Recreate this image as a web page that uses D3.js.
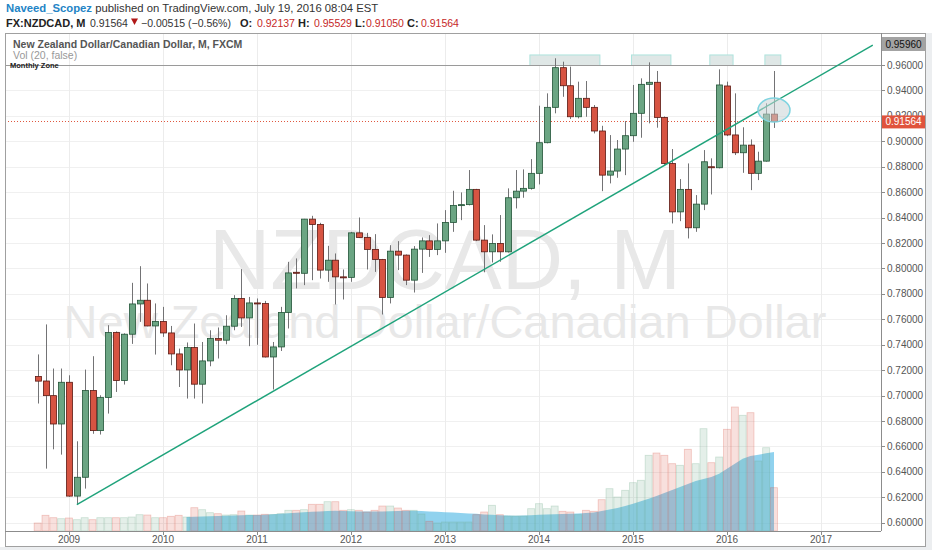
<!DOCTYPE html>
<html>
<head>
<meta charset="utf-8">
<script src="https://cdn.jsdelivr.net/npm/d3@7"></script>
<style>
  body { margin: 0; background: #ffffff; }
  svg { display: block; font-family: Arial, "Liberation Sans", sans-serif; }
</style>
</head>
<body>
<div id="chart"></div>
<script>
// monthly candles, NZD/CAD (FXCM)
const months = [
  "2008-09", "2008-10", "2008-11", "2008-12",
  "2009-01", "2009-02", "2009-03", "2009-04", "2009-05", "2009-06", "2009-07", "2009-08", "2009-09", "2009-10", "2009-11", "2009-12",
  "2010-01", "2010-02", "2010-03", "2010-04", "2010-05", "2010-06", "2010-07", "2010-08", "2010-09", "2010-10", "2010-11", "2010-12",
  "2011-01", "2011-02", "2011-03", "2011-04", "2011-05", "2011-06", "2011-07", "2011-08", "2011-09", "2011-10", "2011-11", "2011-12",
  "2012-01", "2012-02", "2012-03", "2012-04", "2012-05", "2012-06", "2012-07", "2012-08", "2012-09", "2012-10", "2012-11", "2012-12",
  "2013-01", "2013-02", "2013-03", "2013-04", "2013-05", "2013-06", "2013-07", "2013-08", "2013-09", "2013-10", "2013-11", "2013-12",
  "2014-01", "2014-02", "2014-03", "2014-04", "2014-05", "2014-06", "2014-07", "2014-08", "2014-09", "2014-10", "2014-11", "2014-12",
  "2015-01", "2015-02", "2015-03", "2015-04", "2015-05", "2015-06", "2015-07", "2015-08", "2015-09", "2015-10", "2015-11", "2015-12",
  "2016-01", "2016-02", "2016-03", "2016-04", "2016-05", "2016-06", "2016-07"
];

const opens = [
  0.7151, 0.7115, 0.7000, 0.6777,
  0.7105, 0.6210, 0.6358, 0.7040, 0.6725, 0.6985, 0.7496, 0.7119, 0.7483, 0.7721, 0.7750, 0.7548,
  0.7583, 0.7493, 0.7328, 0.7202, 0.7378, 0.7090, 0.7273, 0.7449, 0.7436, 0.7546, 0.7764, 0.7611,
  0.7729, 0.7724, 0.7304, 0.7383, 0.7654, 0.7970, 0.7962, 0.8388, 0.8346, 0.7987, 0.8065, 0.7934,
  0.7930, 0.8280, 0.8244, 0.8150, 0.8071, 0.7772, 0.8136, 0.8105, 0.7908, 0.8152, 0.8217, 0.8150,
  0.8217, 0.8362, 0.8496, 0.8502, 0.8622, 0.8223, 0.8131, 0.8197, 0.8131, 0.8556, 0.8608, 0.8630,
  0.8748, 0.8989, 0.9267, 0.9579, 0.9437, 0.9193, 0.9338, 0.9267, 0.9081, 0.8734, 0.8766, 0.8939,
  0.9044, 0.9220, 0.9448, 0.9464, 0.9188, 0.8826, 0.8445, 0.8622, 0.8320, 0.8506, 0.8800, 0.8792,
  0.9435, 0.9050, 0.8910, 0.8970, 0.8748, 0.8844, 0.92137
];

const highs = [
  0.7324, 0.7560, 0.7213, 0.7213,
  0.7160, 0.6641, 0.7205, 0.7310, 0.7003, 0.7554, 0.7505, 0.7490, 0.7887, 0.8018, 0.7882, 0.7725,
  0.7698, 0.7548, 0.7370, 0.7418, 0.7567, 0.7422, 0.7514, 0.7536, 0.7632, 0.7790, 0.7995, 0.7776,
  0.7764, 0.7745, 0.7422, 0.7698, 0.8052, 0.8079, 0.8390, 0.8414, 0.8359, 0.8178, 0.8118, 0.7992,
  0.8288, 0.8401, 0.8280, 0.8270, 0.8075, 0.8183, 0.8215, 0.8110, 0.8176, 0.8244, 0.8262, 0.8354,
  0.8459, 0.8611, 0.8598, 0.8774, 0.8626, 0.8341, 0.8268, 0.8420, 0.8630, 0.8774, 0.8779, 0.8860,
  0.9280, 0.9377, 0.9653, 0.9626, 0.9587, 0.9469, 0.9474, 0.9285, 0.9122, 0.9049, 0.9010, 0.9159,
  0.9443, 0.9495, 0.9621, 0.9553, 0.9195, 0.8939, 0.8703, 0.8826, 0.8577, 0.8931, 0.8866, 0.9566,
  0.9469, 0.9377, 0.9110, 0.9015, 0.8918, 0.9299, 0.95529
];

const lows = [
  0.6938, 0.6426, 0.6578, 0.6536,
  0.6205, 0.6143, 0.6269, 0.6700, 0.6694, 0.6859, 0.7029, 0.7087, 0.7407, 0.7580, 0.7545, 0.7323,
  0.7462, 0.7239, 0.7068, 0.6977, 0.6977, 0.6938, 0.7231, 0.7292, 0.7404, 0.7514, 0.7540, 0.7389,
  0.7400, 0.7300, 0.7048, 0.7351, 0.7528, 0.7843, 0.7869, 0.7908, 0.7921, 0.7895, 0.7717, 0.7756,
  0.7895, 0.8240, 0.7992, 0.7973, 0.7638, 0.7725, 0.7987, 0.7869, 0.7811, 0.7965, 0.8091, 0.8105,
  0.8123, 0.8288, 0.8380, 0.8496, 0.8215, 0.7970, 0.8047, 0.8053, 0.8125, 0.8472, 0.8556, 0.8620,
  0.8661, 0.8984, 0.9220, 0.9350, 0.9175, 0.9180, 0.9193, 0.9062, 0.8608, 0.8669, 0.8713, 0.8734,
  0.8996, 0.9028, 0.9141, 0.9107, 0.8815, 0.8354, 0.8372, 0.8236, 0.8288, 0.8459, 0.8582, 0.8787,
  0.9041, 0.8892, 0.8752, 0.8616, 0.8695, 0.8840, 0.91050
];

const closes = [
  0.7114, 0.7000, 0.6777, 0.7105,
  0.6210, 0.6358, 0.7040, 0.6725, 0.6985, 0.7496, 0.7119, 0.7483, 0.7721, 0.7750, 0.7548, 0.7583,
  0.7493, 0.7328, 0.7202, 0.7378, 0.7090, 0.7273, 0.7449, 0.7436, 0.7546, 0.7764, 0.7611, 0.7729,
  0.7724, 0.7304, 0.7383, 0.7654, 0.7965, 0.7962, 0.8388, 0.8346, 0.7987, 0.8065, 0.7934, 0.7930,
  0.8280, 0.8244, 0.8150, 0.8071, 0.7772, 0.8136, 0.8105, 0.7908, 0.8152, 0.8217, 0.8150, 0.8217,
  0.8362, 0.8496, 0.8502, 0.8622, 0.8223, 0.8131, 0.8197, 0.8131, 0.8556, 0.8608, 0.8630, 0.8748,
  0.8989, 0.9267, 0.9579, 0.9437, 0.9193, 0.9338, 0.9267, 0.9081, 0.8734, 0.8766, 0.8939, 0.9044,
  0.9220, 0.9448, 0.9464, 0.9188, 0.8826, 0.8445, 0.8622, 0.8320, 0.8506, 0.8839, 0.8792, 0.9443,
  0.9050, 0.8910, 0.8970, 0.8748, 0.8844, 0.9214, 0.91564
];

// volume (arbitrary units)
const volumes = [
  8.0, 15.7, 13.3, 12.3,
  13.0, 11.3, 13.3, 11.3, 13.3, 13.3, 13.3, 13.3, 14.0, 16.3, 16.0, 13.3,
  13.3, 14.7, 15.7, 14.0, 23.3, 21.3, 18.3, 17.3, 16.0, 16.3, 20.0, 16.0,
  16.0, 16.7, 16.3, 17.3, 20.7, 20.7, 21.3, 26.7, 26.7, 29.3, 29.3, 20.7,
  21.3, 20.7, 19.0, 20.7, 25.0, 25.0, 23.0, 20.7, 20.7, 17.0, 9.7, 8.0,
  9.0, 9.0, 9.0, 9.0, 16.3, 19.0, 25.7, 16.3, 15.0, 15.0, 15.0, 22.3,
  27.3, 22.3, 25.0, 19.7, 19.0, 16.3, 20.7, 19.7, 31.3, 42.3, 34.0, 40.7,
  48.3, 50.7, 75.7, 78.0, 75.7, 67.3, 65.7, 81.7, 67.3, 102.3, 68.3, 74.0,
  101.7, 124.0, 115.7, 118.3, 70.0, 83.3, 43.3
];

// Vol (20) average line, starts at 2010-04
const volMAStart = "2010-04";
const volMA = [
  14.0, 14.3, 14.6, 14.8, 15.0, 15.3, 15.6, 15.8, 16.0,
  16.0, 16.3, 16.7, 17.2, 17.8, 18.2, 18.7, 19.2, 19.6, 20.0, 20.2, 20.0,
  19.8, 19.6, 19.5, 19.4, 19.5, 19.8, 20.0, 20.2, 20.2, 20.0, 19.6, 19.2,
  18.8, 18.4, 18.0, 17.6, 17.2, 16.6, 16.2, 15.8, 15.4, 15.2, 15.4, 15.8,
  16.3, 16.6, 16.8, 17.0, 17.3, 17.6, 18.0, 18.5, 20.0, 21.5, 23.0, 25.0,
  27.3, 29.8, 32.3, 35.0, 38.0, 41.0, 44.0, 47.0, 50.0, 52.0, 54.0, 57.3,
  62.3, 67.3, 72.3, 75.0, 76.3, 77.7, 79.0
];

const priceTicks = [0.60, 0.62, 0.64, 0.66, 0.68, 0.70, 0.72, 0.74, 0.76, 0.78, 0.80,
  0.82, 0.84, 0.86, 0.88, 0.90, 0.92, 0.94, 0.96];
const yearTicks = [2009, 2010, 2011, 2012, 2013, 2014, 2015, 2016, 2017];

// drawings on the chart
const zoneLevel = 0.9596;
const zoneTop = 0.9679;
const zoneStarts = ["2013-11-27", "2014-12-26", "2015-10-26", "2016-05-27"];
const zoneEnds = ["2014-08-25", "2015-05-27", "2016-01-25", "2016-07-28"];
const trendFrom = { date: "2009-02", price: 0.6143 };
const trendTo = { date: "2017-07-20", price: 0.9757 };
const circleAt = { date: "2016-07", price: 0.9246 };
const lastPrice = 0.91564;

function monthIndex(s) {
  const p = s.split('-').map(Number);
  return (p[0] - 2009) * 12 + (p[1] - 1) + (p[2] ? (p[2] - 1) / 31 : 0);
}

let width = 932, height = 550;
let plot = { left: 5, top: 33, right: 881, bottom: 531 };

let x = d3.scaleLinear().domain([0, 96]).range([69, 821]);
let y = d3.scaleLinear().domain([0.60, 0.96]).range([522.8, 65]);
let yVol = d3.scaleLinear().domain([0, 124]).range([plot.bottom, 407]);

let upColor = "#6ba583", downColor = "#d75442",
  upBorder = "#225437", downBorder = "#5b1a13", wickColor = "#737375";

let candles = months.map((m, i) => ({
  i: monthIndex(m), o: opens[i], h: highs[i], l: lows[i], c: closes[i], v: volumes[i]
}));

let svg = d3.select('#chart').append('svg')
  .attr('width', width)
  .attr('height', height)
  .attr('viewBox', '0 0 ' + width + ' ' + height);

// page + frame
svg.append('rect').attr('width', width).attr('height', height).attr('fill', '#ffffff');
svg.append('rect').attr('x', 0).attr('y', 547).attr('width', width).attr('height', 3).attr('fill', '#eceef0');
svg.append('rect').attr('x', 926).attr('y', 33).attr('width', 6).attr('height', 517).attr('fill', '#eceef0');

svg.append('defs').append('clipPath').attr('id', 'plotClip')
  .append('rect')
  .attr('x', plot.left).attr('y', plot.top)
  .attr('width', plot.right - plot.left).attr('height', plot.bottom - plot.top);

// grid
let grid = svg.append('g');
grid.selectAll('.hgrid').data(priceTicks).enter().append('line')
  .attr('x1', plot.left).attr('x2', plot.right)
  .attr('y1', d => Math.round(y(d)) + 0.5).attr('y2', d => Math.round(y(d)) + 0.5)
  .style('stroke', '#f0f0f0');
grid.selectAll('.vgrid').data(yearTicks).enter().append('line')
  .attr('x1', d => Math.round(x((d - 2009) * 12)) + 0.5).attr('x2', d => Math.round(x((d - 2009) * 12)) + 0.5)
  .attr('y1', plot.top).attr('y2', plot.bottom)
  .style('stroke', '#ececec');

// watermark
svg.append('text')
  .attr('x', 445).attr('y', 289)
  .attr('text-anchor', 'middle')
  .style('font-size', '85px')
  .style('fill', '#e8e8e8')
  .text('NZDCAD, M');
svg.append('text')
  .attr('x', 445).attr('y', 338)
  .attr('text-anchor', 'middle')
  .style('font-size', '47px')
  .style('fill', '#e8e8e8')
  .text('New Zealand Dollar/Canadian Dollar');

let chart = svg.append('g').attr('clip-path', 'url(#plotClip)');

// volume average area
let maStart = monthIndex(volMAStart);
let maArea = d3.area()
  .x((d, i) => x(maStart + i))
  .y0(plot.bottom)
  .y1(d => yVol(d));
chart.append('path')
  .datum(volMA)
  .attr('d', maArea)
  .style('fill', '#5cbde6')
  .style('fill-opacity', 0.68);

// volume bars
chart.selectAll('.vol').data(candles).enter().append('rect')
  .attr('x', d => x(d.i) - 3.5)
  .attr('width', 7)
  .attr('y', d => yVol(d.v))
  .attr('height', d => plot.bottom - yVol(d.v))
  .style('fill', d => d.c >= d.o ? upColor : downColor)
  .style('fill-opacity', 0.18)
  .style('stroke', d => d.c >= d.o ? upColor : downColor)
  .style('stroke-opacity', 0.3)
  .style('stroke-width', 0.8);

// monthly zones
chart.selectAll('.zone').data(zoneStarts).enter().append('rect')
  .attr('x', d => x(monthIndex(d)))
  .attr('width', (d, i) => x(monthIndex(zoneEnds[i])) - x(monthIndex(d)))
  .attr('y', y(zoneTop))
  .attr('height', y(zoneLevel) - y(zoneTop))
  .style('fill', '#dfe7e6')
  .style('stroke', '#aee3dd')
  .style('stroke-width', 1);

chart.append('line')
  .attr('x1', plot.left).attr('x2', plot.right)
  .attr('y1', y(zoneLevel)).attr('y2', y(zoneLevel))
  .style('stroke', '#9a9a9a')
  .style('stroke-width', 1);

// last price line
chart.append('line')
  .attr('x1', plot.left).attr('x2', plot.right)
  .attr('y1', Math.round(y(lastPrice)) + 0.5).attr('y2', Math.round(y(lastPrice)) + 0.5)
  .style('stroke', '#e0583f')
  .style('stroke-dasharray', '1,2');

// candles
let candle = chart.selectAll('.candle').data(candles).enter().append('g');
candle.append('line')
  .attr('x1', d => Math.round(x(d.i)) + 0.5).attr('x2', d => Math.round(x(d.i)) + 0.5)
  .attr('y1', d => y(d.h)).attr('y2', d => y(d.l))
  .style('stroke', wickColor)
  .style('stroke-width', 1);
candle.append('rect')
  .attr('x', d => Math.round(x(d.i)) - 2.5)
  .attr('width', 6)
  .attr('y', d => y(Math.max(d.o, d.c)))
  .attr('height', d => Math.max(1, Math.abs(y(d.o) - y(d.c))))
  .style('fill', d => d.c >= d.o ? upColor : downColor)
  .style('stroke', d => d.c >= d.o ? upBorder : downBorder)
  .style('stroke-width', 0.8);

// trend line
chart.append('line')
  .attr('x1', x(monthIndex(trendFrom.date))).attr('y1', y(trendFrom.price))
  .attr('x2', x(monthIndex(trendTo.date))).attr('y2', y(trendTo.price))
  .style('stroke', '#1fa37b')
  .style('stroke-width', 1.4);

// highlight circle
chart.append('ellipse')
  .attr('cx', x(monthIndex(circleAt.date)))
  .attr('cy', y(circleAt.price))
  .attr('rx', 16).attr('ry', 12)
  .style('fill', '#c9d3d6')
  .style('fill-opacity', 0.55)
  .style('stroke', '#7fd4e0')
  .style('stroke-width', 1.5);

// frame lines
svg.append('rect')
  .attr('x', plot.left + 0.5).attr('y', plot.top + 0.5)
  .attr('width', 926 - plot.left - 1).attr('height', 547 - plot.top - 1)
  .style('fill', 'none').style('stroke', '#a0a0a0');
svg.append('line')
  .attr('x1', plot.right + 0.5).attr('x2', plot.right + 0.5)
  .attr('y1', plot.top).attr('y2', plot.bottom)
  .style('stroke', '#8c8c8c');
svg.append('line')
  .attr('x1', plot.left).attr('x2', plot.right)
  .attr('y1', plot.bottom + 0.5).attr('y2', plot.bottom + 0.5)
  .style('stroke', '#8c8c8c');

// price axis (0.92000 sits partly under the last price tag, as in the original)
let yAxis = svg.append('g');
yAxis.selectAll('.tick').data(priceTicks).enter().append('line')
  .attr('x1', plot.right).attr('x2', plot.right + 4)
  .attr('y1', d => Math.round(y(d)) + 0.5).attr('y2', d => Math.round(y(d)) + 0.5)
  .style('stroke', '#8c8c8c');
yAxis.selectAll('.label').data(priceTicks).enter().append('text')
  .attr('x', plot.right + 6)
  .attr('y', d => y(d))
  .attr('dy', '0.35em')
  .style('font-size', '10px')
  .style('fill', '#555')
  .text(d => d3.format('.5f')(d));

// zone level label
svg.append('rect')
  .attr('x', 882).attr('y', 37).attr('width', 43).attr('height', 14)
  .style('fill', '#a3a3a3');
svg.append('text')
  .attr('x', 903.5).attr('y', 44).attr('dy', '0.35em')
  .attr('text-anchor', 'middle')
  .style('font-size', '10px')
  .style('fill', '#111')
  .text(d3.format('.5f')(zoneLevel));

// last price label
svg.append('rect')
  .attr('x', 882).attr('y', y(lastPrice) - 6).attr('width', 43).attr('height', 13)
  .style('fill', '#e0533c');
svg.append('text')
  .attr('x', 903.5).attr('y', y(lastPrice) + 0.5).attr('dy', '0.35em')
  .attr('text-anchor', 'middle')
  .style('font-size', '10px')
  .style('fill', '#ffffff')
  .text(d3.format('.5f')(lastPrice));

// time axis
let xAxis = svg.append('g');
xAxis.selectAll('.tick').data(yearTicks).enter().append('line')
  .attr('x1', d => Math.round(x((d - 2009) * 12)) + 0.5).attr('x2', d => Math.round(x((d - 2009) * 12)) + 0.5)
  .attr('y1', plot.bottom).attr('y2', plot.bottom + 4)
  .style('stroke', '#8c8c8c');
xAxis.selectAll('.label').data(yearTicks).enter().append('text')
  .attr('x', d => x((d - 2009) * 12))
  .attr('y', 543)
  .attr('text-anchor', 'middle')
  .style('font-size', '10px')
  .style('fill', '#555')
  .text(d => d);

// legend
svg.append('text')
  .attr('x', 13).attr('y', 48)
  .style('font-size', '10.5px')
  .style('font-weight', 'bold')
  .style('fill', '#555')
  .text('New Zealand Dollar/Canadian Dollar, M, FXCM');
svg.append('text')
  .attr('x', 13).attr('y', 59)
  .style('font-size', '10.5px')
  .style('fill', '#999')
  .text('Vol (20, false)');
svg.append('text')
  .attr('x', 10).attr('y', 68)
  .style('font-size', '7.5px')
  .style('font-weight', 'bold')
  .style('fill', '#222')
  .text('Monthly Zone');

// header
let h1 = svg.append('text').attr('x', 6).attr('y', 12).style('font-size', '11.3px');
h1.append('tspan').style('fill', '#2384c6').style('font-weight', 'bold').text('Naveed_Scopez');
h1.append('tspan').style('fill', '#333').text(' published on TradingView.com, July 19, 2016 08:04 EST');

let header2 = [
  { x: 6, t: 'FX:NZDCAD, M', c: '#222', b: true },
  { x: 90, t: '0.91564', c: '#333', b: false },
  { x: 141, t: '\u22120.00515 (\u22120.56%)', c: '#333', b: false },
  { x: 240, t: 'O:', c: '#222', b: true },
  { x: 257, t: '0.92137', c: '#c62828', b: false },
  { x: 298, t: 'H:', c: '#222', b: true },
  { x: 314, t: '0.95529', c: '#c62828', b: false },
  { x: 355, t: 'L:', c: '#222', b: true },
  { x: 366, t: '0.91050', c: '#c62828', b: false },
  { x: 407, t: 'C:', c: '#222', b: true },
  { x: 421, t: '0.91564', c: '#c62828', b: false }
];
svg.selectAll('.h2').data(header2).enter().append('text')
  .attr('x', d => d.x).attr('y', 27)
  .style('font-size', d => d.b ? '11px' : '10.5px')
  .style('font-weight', d => d.b ? 'bold' : 'normal')
  .style('fill', d => d.c)
  .text(d => d.t);
// down arrow
svg.append('path')
  .attr('d', 'M131,18.5 L138,18.5 L134.5,25 Z')
  .style('fill', '#b01818');
</script>
</body>
</html>
